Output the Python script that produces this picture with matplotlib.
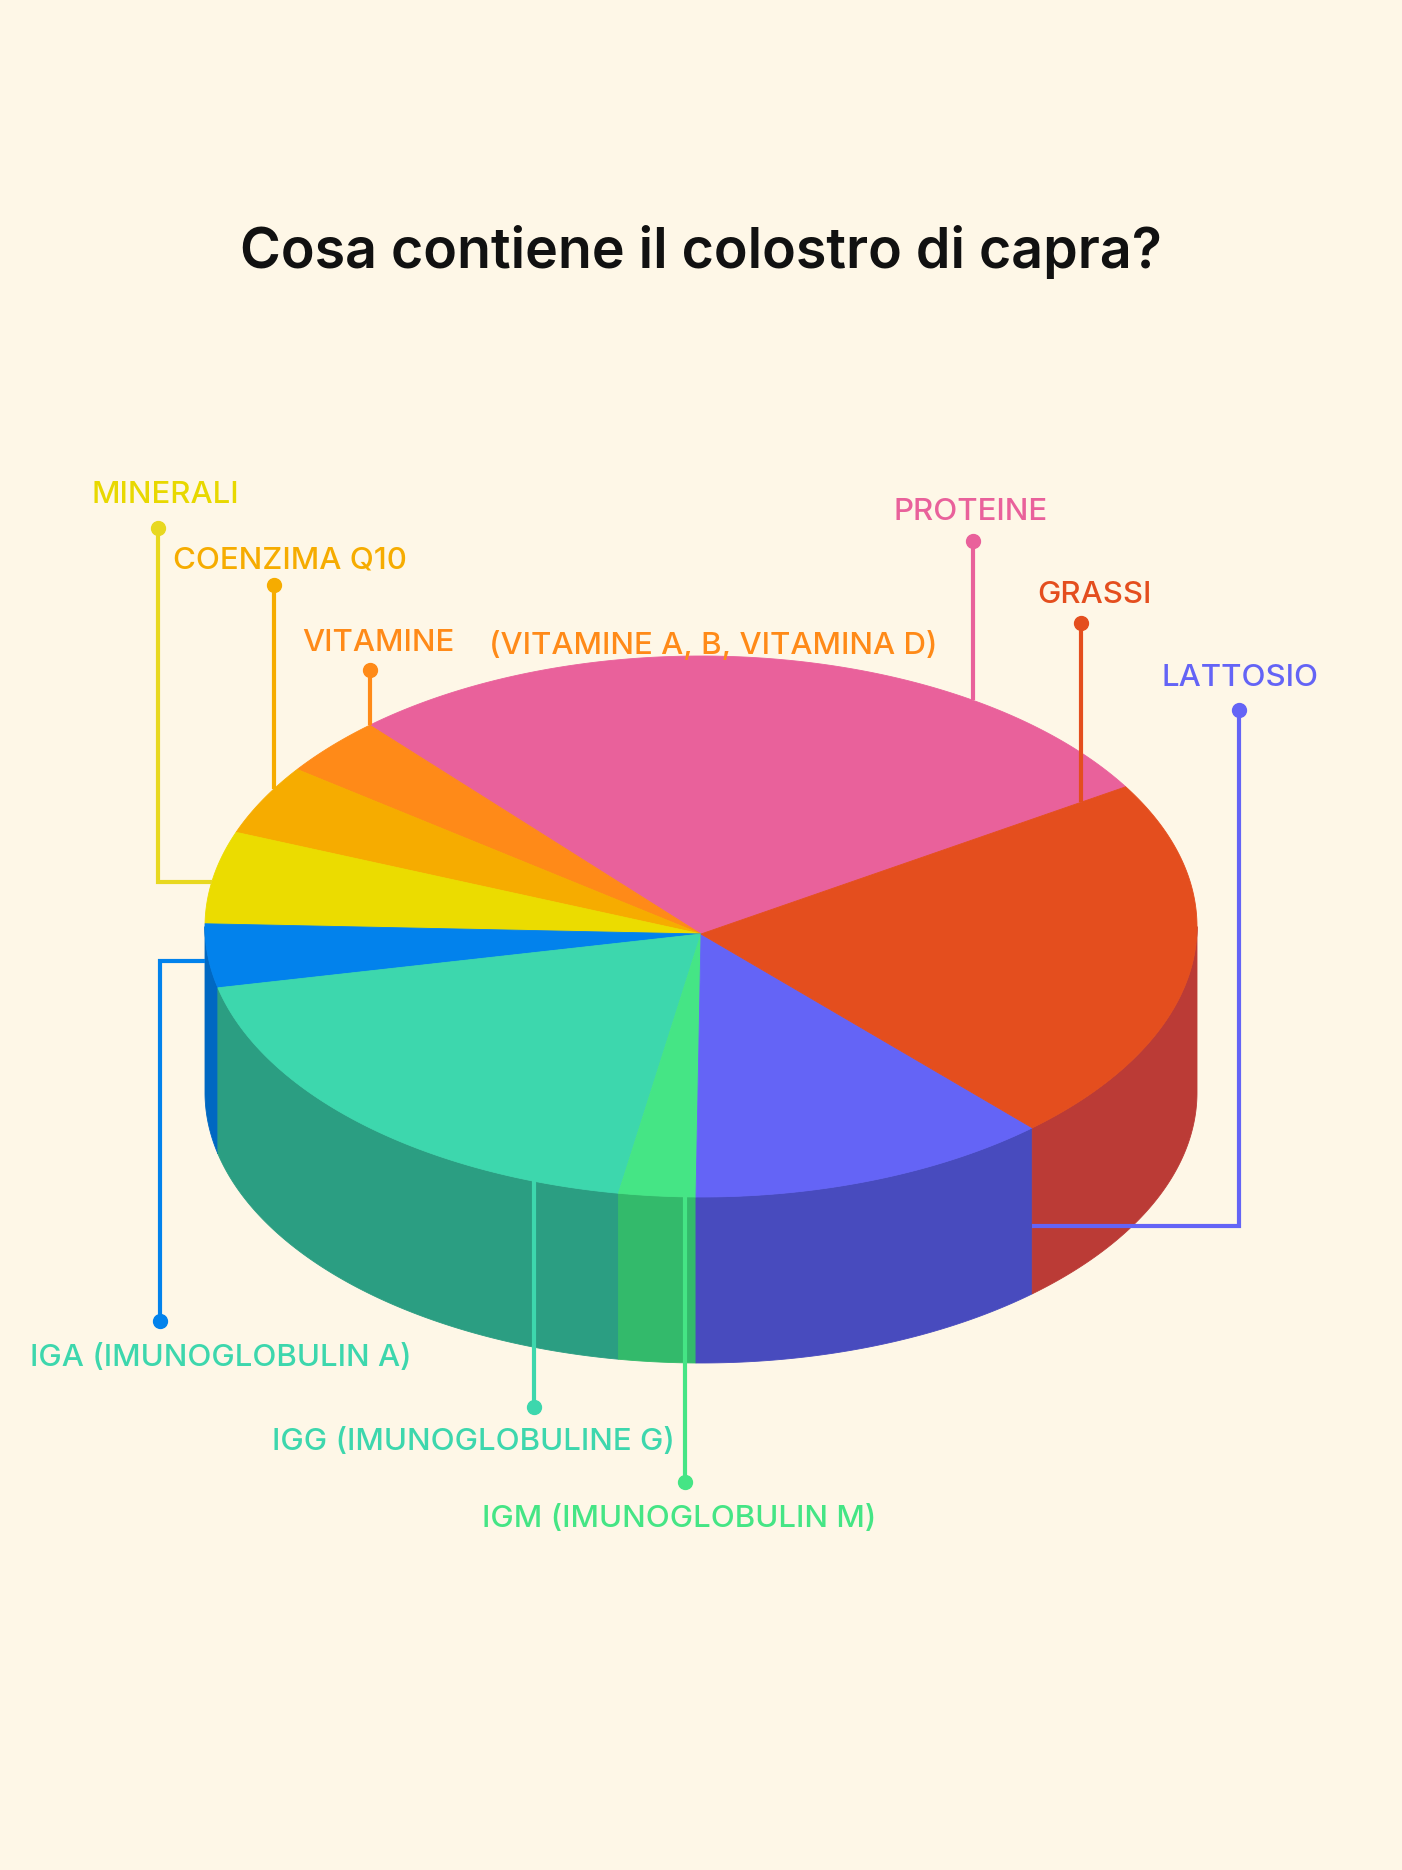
import numpy as np
import matplotlib.pyplot as plt
from matplotlib.patches import Polygon

plt.rcParams['font.family'] = ['Inter', 'DejaVu Sans']

# slice data (percent), in counter-clockwise order starting from the top-right
labels = ['PROTEINE', 'VITAMINE', 'COENZIMA Q10', 'MINERALI',
          'IGA (IMUNOGLOBULIN A)', 'IGG (IMUNOGLOBULINE G)',
          'IGM (IMUNOGLOBULIN M)', 'LATTOSIO', 'GRASSI']
values = [28.0, 3.5, 4.2, 5.5, 3.8, 18.7, 2.5, 11.8, 22.0]
top_colors = ['#E9619B', '#FF8A18', '#F6AC00', '#EBDC00', '#0282EC',
              '#3DD7AD', '#45E585', '#6464F6', '#E44E1E']
side_colors = ['#B84C7A', '#CC6E12', '#C48A00', '#BCB000', '#0068C2',
               '#2B9E82', '#33BA6B', '#484BBE', '#BB3B36']
text_colors = ['#E9619B', '#FF8A18', '#F6AC00', '#E8D800', '#3DD7AD',
               '#3DD7AD', '#45E585', '#6464F6', '#E44E1E']
line_colors = ['#E9619B', '#FF8A18', '#F6AC00', '#E8D820', '#0282EC',
               '#3DD7AD', '#45E585', '#6464F6', '#E44E1E']
note = '(VITAMINE A, B, VITAMINA D)'
title = 'Cosa contiene il colostro di capra?'

bg = '#FEF7E7'
W, H = 1402, 1870
cx, cy, rx, ry = 701, 926.5, 496, 270.5
hub = (701, 934)
depth = 166
start = 31.1

fig = plt.figure(figsize=(W / 100, H / 100), dpi=100, facecolor=bg)
ax = fig.add_axes([0, 0, 1, 1])
ax.set_xlim(0, W)
ax.set_ylim(H, 0)
ax.axis('off')
ax.set_facecolor(bg)


def ell(t):
    r = np.radians(t)
    return cx + rx * np.cos(r), cy - ry * np.sin(r)


edges = start + np.concatenate([[0], np.cumsum(values)]) * 3.6

# sides (only the front half is visible)
for i in range(len(values)):
    a, b = max(edges[i], 180), min(edges[i + 1], 360)
    if b <= a:
        continue
    t = np.linspace(a, b, 120)
    x, y = ell(t)
    pts = np.column_stack([np.r_[x, x[::-1]], np.r_[y, y[::-1] + depth]])
    ax.add_patch(Polygon(pts, closed=True, fc=side_colors[i], ec=side_colors[i],
                         lw=0.6, zorder=1))

# top face
for i in range(len(values)):
    t = np.linspace(edges[i], edges[i + 1], 200)
    x, y = ell(t)
    pts = np.column_stack([np.r_[hub[0], x], np.r_[hub[1], y]])
    ax.add_patch(Polygon(pts, closed=True, fc=top_colors[i], ec=top_colors[i],
                         lw=0.6, zorder=2))


def y_upper(x):
    return cy - ry * np.sqrt(1 - ((x - cx) / rx) ** 2)


def y_lower(x):
    return cy + ry * np.sqrt(1 - ((x - cx) / rx) ** 2)


def x_left(y):
    return cx - rx * np.sqrt(1 - ((cy - y) / ry) ** 2)


bx_pg, by_pg = ell(edges[0])       # proteine / grassi boundary on rim
bx_vp, _ = ell(edges[1])           # vitamine / proteine
bx_gl, _ = ell(edges[8])           # lattosio / grassi
x_g = 1081
y_g = hub[1] + (by_pg - hub[1]) * (x_g - hub[0]) / (bx_pg - hub[0])

# leader lines: (label index, text x, text y, path)
leaders = [
    (0, 894, 509, [(973, 541), (973, y_upper(973))]),
    (1, 302, 640, [(bx_vp, 670), (bx_vp, y_upper(bx_vp))]),
    (2, 173, 558, [(274, 585), (274, y_upper(274))]),
    (3, 91, 492, [(158, 528), (158, 882), (x_left(882), 882)]),
    (4, 30, 1355, [(160, 1321), (160, 961), (cx - rx, 961)]),
    (5, 272, 1439, [(534, 1407), (534, y_lower(534))]),
    (6, 482, 1516, [(685, 1482), (685, y_lower(685))]),
    (7, 1162, 675, [(1239, 710), (1239, 1226), (bx_gl, 1226)]),
    (8, 1037, 592, [(x_g, 623), (x_g, y_g)]),
]

for i, tx, ty, path in leaders:
    px = [p[0] for p in path]
    py = [p[1] for p in path]
    ax.plot(px, py, color=line_colors[i], lw=3, solid_joinstyle='miter',
            solid_capstyle='butt', zorder=3)
    ax.plot(px[0], py[0], 'o', color=line_colors[i], ms=10, zorder=4)
    ax.text(tx, ty + 3, labels[i], color=text_colors[i], fontsize=22.5,
            fontweight='medium', ha='left', va='center', zorder=5)

ax.text(489, 645, note, color=text_colors[1], fontsize=22.5,
        fontweight='medium', ha='left', va='center', zorder=5)

ax.text(W / 2, 252, title, color='#111111', fontsize=40, fontweight='semibold',
        ha='center', va='center')

fig.savefig('out.png', dpi=100, facecolor=bg)
